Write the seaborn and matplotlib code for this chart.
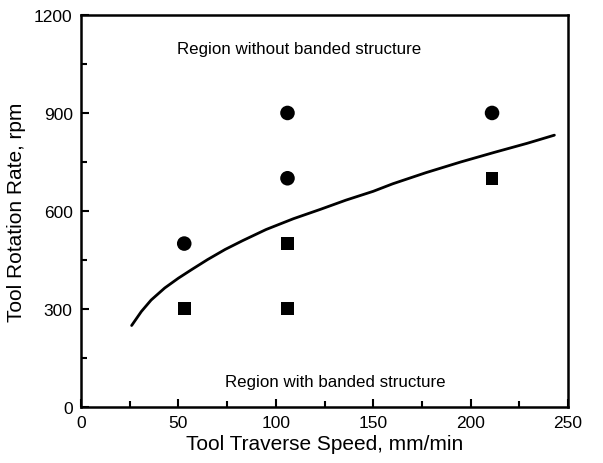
import numpy as np
import pandas as pd
import matplotlib
matplotlib.use("Agg")
import matplotlib.pyplot as plt
from matplotlib.ticker import MultipleLocator
import seaborn as sns

# точки без полос (круги) и с полосами (квадраты)
speed_no_band = [53, 106, 106, 211]
rpm_no_band = [500, 700, 900, 900]
speed_band = [53, 106, 106, 211]
rpm_band = [300, 300, 500, 700]

# граница между областями
curve_speed = [26, 31, 36, 43, 50, 57, 65, 74, 83, 95, 109, 123, 136, 150,
               160, 177, 195, 212, 229, 243]
curve_rpm = [249, 292, 327, 364, 394, 421, 451, 482, 509, 543, 576, 605, 633, 660,
             683, 717, 750, 779, 807, 832]

sns.set_style("white")
plt.rcParams["font.family"] = ["Liberation Sans", "DejaVu Sans"]
plt.rcParams["text.color"] = "black"
plt.rcParams["axes.labelcolor"] = "black"
plt.rcParams["xtick.color"] = "black"
plt.rcParams["ytick.color"] = "black"

fig = plt.figure(figsize=(6.03, 4.64), dpi=100)
ax = fig.add_axes([0.1343, 0.1211, 0.8077, 0.8444])

curve = pd.DataFrame({"speed": curve_speed, "rpm": curve_rpm})
sns.lineplot(data=curve, x="speed", y="rpm", color="black", linewidth=2, sort=False, ax=ax)

sns.scatterplot(x=speed_no_band, y=rpm_no_band, marker="o", s=110, color="black",
                edgecolor="none", ax=ax)
sns.scatterplot(x=speed_band, y=rpm_band, marker="s", s=85, color="black",
                edgecolor="none", ax=ax)

ax.text(112, 1097, "Region without banded structure", ha="center", va="center", fontsize=12.2)
ax.text(130.5, 79, "Region with banded structure", ha="center", va="center", fontsize=12.2)

ax.set_xlim(0, 250)
ax.set_ylim(0, 1200)
ax.xaxis.set_major_locator(MultipleLocator(50))
ax.xaxis.set_minor_locator(MultipleLocator(25))
ax.yaxis.set_major_locator(MultipleLocator(300))
ax.yaxis.set_minor_locator(MultipleLocator(150))
ax.tick_params(which="both", direction="in", bottom=True, left=True, top=False, right=False,
               width=1.5, labelsize=12.5)
ax.tick_params(which="major", length=6, pad=6)
ax.tick_params(which="minor", length=4)
for sp in ax.spines.values():
    sp.set_linewidth(1.8)
    sp.set_color("black")

ax.set_xlabel("Tool Traverse Speed, mm/min", fontsize=15, labelpad=3)
ax.set_ylabel("Tool Rotation Rate, rpm", fontsize=15, labelpad=6)

fig.savefig("out.png", dpi=100)
